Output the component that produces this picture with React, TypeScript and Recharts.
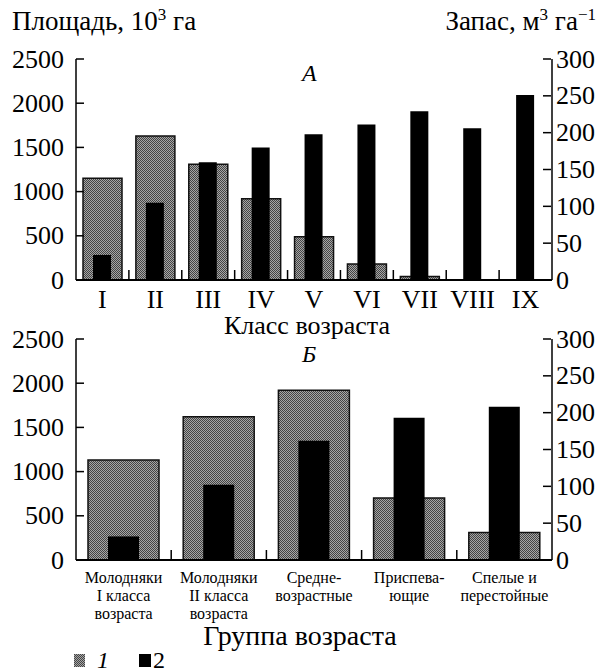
import React from "react";
import { BarChart, Bar, XAxis, YAxis } from "recharts";

// Panel A: age classes
const classes = ["I", "II", "III", "IV", "V", "VI", "VII", "VIII", "IX"];
const areaByClass = [1150, 1630, 1310, 920, 490, 180, 40, 0, 0];
const stockByClass = [34, 105, 160, 180, 198, 211, 229, 206, 251];

// Panel Б: age groups
const groups = [
  "Молодняки\nI класса\nвозраста",
  "Молодняки\nII класса\nвозраста",
  "Средне-\nвозрастные",
  "Приспева-\nющие",
  "Спелые и\nперестойные",
];
const areaByGroup = [1130, 1620, 1920, 700, 310];
const stockByGroup = [32, 102, 162, 193, 208];

const areaTicks = [0, 500, 1000, 1500, 2000, 2500];
const stockTicks = [0, 50, 100, 150, 200, 250, 300];

const FONT = '"Liberation Serif", "Times New Roman", serif';
const PLOT_W = 476;
const NUM_SIZE = 26;

const LeftTick = ({ x, y, payload }: any) => (
  <g>
    <line x1={x + 12} x2={x + 20} y1={y} y2={y} stroke="#000" strokeWidth={1.5} />
    <text x={x} y={y} textAnchor="end" dominantBaseline="central" fontFamily={FONT} fontSize={NUM_SIZE} fill="#000">
      {payload.value}
    </text>
  </g>
);

const RightTick = ({ x, y, payload }: any) => (
  <g>
    <line x1={x - 5} x2={x - 13} y1={y} y2={y} stroke="#000" strokeWidth={1.5} />
    <text x={x} y={y} textAnchor="start" dominantBaseline="central" fontFamily={FONT} fontSize={NUM_SIZE} fill="#000">
      {payload.value}
    </text>
  </g>
);

// category tick: label(s) under the band, short mark at the band boundary
const makeCatTick = (n: number, fontSize: number, firstDy: number, lineH: number) => (props: any) => {
  const { x, y, payload } = props;
  const idx = payload.index ?? props.index;
  const band = PLOT_W / n;
  const lines = String(payload.value).split("\n");
  return (
    <g>
      {idx < n - 1 && (
        <line x1={x + band / 2} x2={x + band / 2} y1={y} y2={y - 10} stroke="#000" strokeWidth={1.5} />
      )}
      {lines.map((l, i) => (
        <text key={i} x={x} y={y + firstDy + i * lineH} textAnchor="middle" dominantBaseline="central"
          fontFamily={FONT} fontSize={fontSize} fill="#000">
          {l}
        </text>
      ))}
    </g>
  );
};

function Panel({ names, area, stock, height, top, xHeight, wide, narrow, tick, pid }: any) {
  const data = names.map((name: string, i: number) => ({ name, area: area[i], stock: stock[i] }));
  return (
    <div style={{ position: "absolute", left: 0, top }}>
      <BarChart width={602} height={height} data={data} margin={{ top: 19, right: 0, bottom: 0, left: 0 }}>
        <defs>
          <pattern id={pid} width={2} height={2} patternUnits="userSpaceOnUse">
            <rect width={2} height={2} fill="#a6a6a6" />
            <rect width={1} height={1} fill="#444" />
            <rect x={1} y={1} width={1} height={1} fill="#444" />
          </pattern>
        </defs>
        <XAxis xAxisId="a" dataKey="name" type="category" height={xHeight} interval={0}
          tickSize={0} tickMargin={0} tickLine={false}
          axisLine={{ stroke: "#000", strokeWidth: 2 }} tick={tick} />
        <XAxis xAxisId="b" dataKey="name" type="category" hide />
        <YAxis yAxisId="left" orientation="left" width={76} domain={[0, 2500]} ticks={areaTicks}
          interval={0} tickSize={0} tickMargin={12} tickLine={false}
          axisLine={{ stroke: "#000", strokeWidth: 1.5 }} tick={<LeftTick />} />
        <YAxis yAxisId="right" orientation="right" width={50} domain={[0, 300]} ticks={stockTicks}
          interval={0} tickSize={0} tickMargin={4} tickLine={false}
          axisLine={{ stroke: "#000", strokeWidth: 1.5 }} tick={<RightTick />} />
        <Bar xAxisId="a" yAxisId="left" dataKey="area" barSize={wide} fill={`url(#${pid})`}
          stroke="#111" strokeWidth={1.5} isAnimationActive={false} />
        <Bar xAxisId="b" yAxisId="right" dataKey="stock" barSize={narrow} fill="#000"
          isAnimationActive={false} />
      </BarChart>
    </div>
  );
}

const label = (extra: React.CSSProperties): React.CSSProperties => ({
  position: "absolute",
  fontFamily: FONT,
  fontSize: 26,
  lineHeight: "30px",
  color: "#000",
  whiteSpace: "nowrap",
  ...extra,
});

export default function App() {
  return (
    <div style={{ position: "absolute", left: 0, top: 0, width: 602, height: 672, background: "#fff", overflow: "hidden" }}>
      <div style={label({ left: 12, top: 6, fontSize: 27 })}>
        Площадь, 10<sup style={{ fontSize: 17, lineHeight: 0 }}>3</sup> га
      </div>
      <div style={label({ right: 6, top: 6, fontSize: 27 })}>
        Запас, м<sup style={{ fontSize: 17, lineHeight: 0 }}>3</sup> га<sup style={{ fontSize: 17, lineHeight: 0 }}>−1</sup>
      </div>

      <Panel pid="dotsA" names={classes} area={areaByClass} stock={stockByClass}
        top={40} height={285} xHeight={45} wide={39} narrow={18}
        tick={makeCatTick(classes.length, 26, 19, 0)} />
      <div style={label({ left: 302, top: 58, fontSize: 24, fontStyle: "italic" })}>А</div>
      <div style={label({ left: 307, top: 311, transform: "translateX(-50%)" })}>Класс возраста</div>

      <Panel pid="dotsB" names={groups} area={areaByGroup} stock={stockByGroup}
        top={320} height={310} xHeight={70} wide={71} narrow={31}
        tick={makeCatTick(groups.length, 16, 17, 18)} />
      <div style={label({ left: 302, top: 339, fontSize: 24, fontStyle: "italic" })}>Б</div>
      <div style={label({ left: 300, top: 621, fontSize: 28, transform: "translateX(-50%)" })}>Группа возраста</div>

      <div style={label({ left: 74, top: 649, fontSize: 24, lineHeight: "22px", display: "flex", alignItems: "center" })}>
        <svg width={11} height={13} style={{ display: "block" }}>
          <defs>
            <pattern id="dotsLegend" width={2} height={2} patternUnits="userSpaceOnUse">
              <rect width={2} height={2} fill="#a6a6a6" />
              <rect width={1} height={1} fill="#444" />
              <rect x={1} y={1} width={1} height={1} fill="#444" />
            </pattern>
          </defs>
          <rect x={0} y={0} width={11} height={13} fill="url(#dotsLegend)" />
        </svg>
        <span style={{ fontStyle: "italic", marginLeft: 12 }}>1</span>
        <span style={{ display: "inline-block", width: 12, height: 13, background: "#000", marginLeft: 30 }} />
        <span style={{ marginLeft: 2 }}>2</span>
      </div>
    </div>
  );
}
